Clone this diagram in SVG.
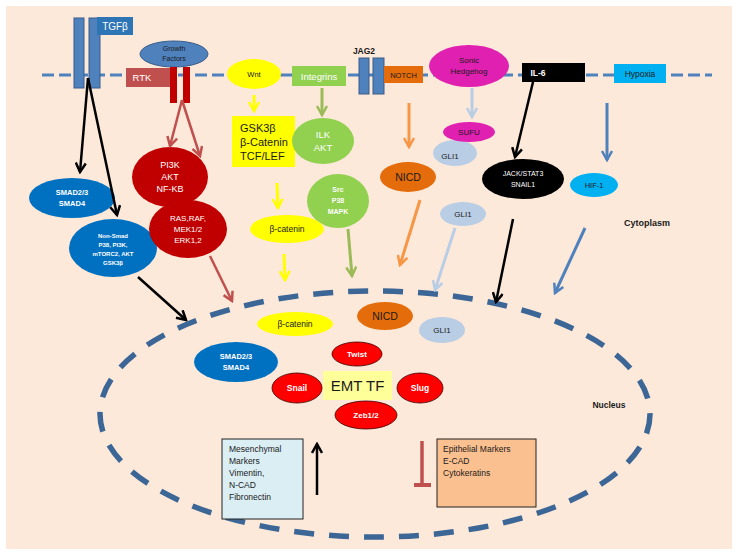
<svg xmlns="http://www.w3.org/2000/svg" width="738" height="556" viewBox="0 0 738 556">
<defs>
<style>
text{font-family:"Liberation Sans","DejaVu Sans",sans-serif;text-anchor:middle;}
.w{fill:#fff;font-weight:bold;}
.d{fill:#1a1a1a;}
.ln{fill:none;stroke-width:2.5;}
.k{stroke:#000;}
.r{stroke:#C0504D;}
.y{stroke:#FFFF00;stroke-width:3;}
.g{stroke:#9BBB59;stroke-width:3;}
.o{stroke:#F79646;stroke-width:3;}
.lb{stroke:#B9CDE5;stroke-width:3;}
.sb{stroke:#4F81BD;stroke-width:3;}
</style>
<marker id="mk" viewBox="0 0 12 12" refX="10" refY="6" markerWidth="12" markerHeight="12" markerUnits="userSpaceOnUse" orient="auto"><path d="M1,1 L10,6 L1,11" fill="none" stroke="#000" stroke-width="2.5"/></marker>
<marker id="mr" viewBox="0 0 12 12" refX="10" refY="6" markerWidth="12" markerHeight="12" markerUnits="userSpaceOnUse" orient="auto"><path d="M1,1 L10,6 L1,11" fill="none" stroke="#C0504D" stroke-width="2.5"/></marker>
<marker id="my" viewBox="0 0 12 12" refX="10" refY="6" markerWidth="12" markerHeight="12" markerUnits="userSpaceOnUse" orient="auto"><path d="M1,1 L10,6 L1,11" fill="none" stroke="#FFFF00" stroke-width="2.5"/></marker>
<marker id="mg" viewBox="0 0 12 12" refX="10" refY="6" markerWidth="12" markerHeight="12" markerUnits="userSpaceOnUse" orient="auto"><path d="M1,1 L10,6 L1,11" fill="none" stroke="#9BBB59" stroke-width="2.5"/></marker>
<marker id="mo" viewBox="0 0 12 12" refX="10" refY="6" markerWidth="12" markerHeight="12" markerUnits="userSpaceOnUse" orient="auto"><path d="M1,1 L10,6 L1,11" fill="none" stroke="#F79646" stroke-width="2.5"/></marker>
<marker id="ml" viewBox="0 0 12 12" refX="10" refY="6" markerWidth="12" markerHeight="12" markerUnits="userSpaceOnUse" orient="auto"><path d="M1,1 L10,6 L1,11" fill="none" stroke="#B9CDE5" stroke-width="2.5"/></marker>
<marker id="ms" viewBox="0 0 12 12" refX="10" refY="6" markerWidth="12" markerHeight="12" markerUnits="userSpaceOnUse" orient="auto"><path d="M1,1 L10,6 L1,11" fill="none" stroke="#4F81BD" stroke-width="2.5"/></marker>
</defs>

<rect x="0" y="0" width="738" height="556" fill="#fff"/>
<rect x="6" y="6" width="726" height="543" fill="#FDE9DA"/>

<!-- membrane -->
<line x1="42" y1="75" x2="712" y2="75" stroke="#4F81BD" stroke-width="3" stroke-dasharray="12,5"/>
<!-- nucleus envelope -->
<ellipse cx="375" cy="414" rx="275" ry="123" fill="none" stroke="#3B6696" stroke-width="5.5" stroke-dasharray="20,15"/>

<text x="647" y="226" class="d" style="font-size:9px;font-weight:bold">Cytoplasm</text>
<text x="609" y="408" class="d" style="font-size:8.5px;font-weight:bold">Nucleus</text>

<!-- TGFβ receptor -->
<g id="tgfb">
<rect x="74" y="18" width="10" height="70" fill="#4F81BD" stroke="#385D8A" stroke-width="1"/>
<rect x="89" y="18" width="11" height="70" fill="#4F81BD" stroke="#385D8A" stroke-width="1"/>
<rect x="97" y="17" width="36" height="18" fill="#2E75B6"/>
<text x="115" y="30" class="w" style="font-size:10px;font-weight:normal">TGFβ</text>
</g>

<g id="growth-factors">
<ellipse cx="174" cy="54" rx="34" ry="13" fill="#4F81BD" stroke="#385D8A" stroke-width="1"/>
<text x="174" y="51" class="d" style="font-size:7px">Growth</text>
<text x="174" y="61" class="d" style="font-size:7px">Factors</text>
</g>

<g id="rtk">
<rect x="126" y="68" width="44" height="19" fill="#C0504D"/>
<text x="142" y="81" style="font-size:9.5px;fill:#fff">RTK</text>
<rect x="170" y="67" width="7" height="36" fill="#C00000"/>
<rect x="183" y="67" width="7" height="36" fill="#C00000"/>
</g>

<g id="wnt">
<ellipse cx="254" cy="74" rx="27" ry="15" fill="#FFFF00"/>
<text x="254" y="77" class="d" style="font-size:7.5px">Wnt</text>
</g>

<g id="integrins">
<rect x="292" y="66" width="54" height="20" fill="#92D050"/>
<text x="319" y="80" style="font-size:9.5px;fill:#fff">Integrins</text>
</g>

<g id="jag2">
<text x="364" y="54" class="d" style="font-size:8.5px;font-weight:bold">JAG2</text>
<rect x="359" y="58" width="10" height="36" fill="#4F81BD" stroke="#385D8A" stroke-width="1"/>
<rect x="373" y="58" width="11" height="36" fill="#4F81BD" stroke="#385D8A" stroke-width="1"/>
</g>

<g id="notch">
<rect x="384" y="66" width="39" height="17" fill="#E46C0A"/>
<text x="403.5" y="78" class="d" style="font-size:7.5px">NOTCH</text>
</g>

<g id="sonic-hedgehog">
<ellipse cx="469" cy="66" rx="40" ry="21" fill="#E020B0"/>
<text x="469" y="63" class="d" style="font-size:8px">Sonic</text>
<text x="469" y="74" class="d" style="font-size:8px">Hedgehog</text>
</g>

<g id="il6">
<rect x="522" y="63" width="63" height="19" fill="#000"/>
<text x="538" y="76" class="w" style="font-size:8.5px">IL-6</text>
</g>

<g id="hypoxia">
<rect x="614" y="64" width="52" height="19" fill="#00B0F0"/>
<text x="640" y="77" class="d" style="font-size:8.5px">Hypoxia</text>
</g>

<g id="smad-cyto">
<ellipse cx="72" cy="198" rx="43" ry="20" fill="#0070C0"/>
<text x="72" y="195" class="w" style="font-size:7.5px">SMAD2/3</text>
<text x="72" y="206" class="w" style="font-size:7.5px">SMAD4</text>
</g>

<g id="non-smad">
<ellipse cx="113" cy="248" rx="44" ry="29" fill="#0070C0"/>
<text x="113" y="238" class="w" style="font-size:6px">Non-Smad</text>
<text x="113" y="247" class="w" style="font-size:6px">P38, PI3K,</text>
<text x="113" y="256" class="w" style="font-size:6px">mTORC2, AKT</text>
<text x="113" y="265" class="w" style="font-size:6px">GSK3β</text>
</g>

<g id="pi3k">
<ellipse cx="170" cy="177" rx="38" ry="30" fill="#C00000"/>
<text x="170" y="168" style="font-size:9px;fill:#fff">PI3K</text>
<text x="170" y="180" style="font-size:9px;fill:#fff">AKT</text>
<text x="170" y="192" style="font-size:9px;fill:#fff">NF-KB</text>
</g>

<g id="ras">
<ellipse cx="188" cy="229" rx="39" ry="29" fill="#C00000"/>
<text x="188" y="221" style="font-size:8px;fill:#fff">RAS,RAF,</text>
<text x="188" y="232" style="font-size:8px;fill:#fff">MEK1/2</text>
<text x="188" y="243" style="font-size:8px;fill:#fff">ERK1,2</text>
</g>

<g id="gsk3b">
<rect x="232" y="116" width="63" height="51" fill="#FFFF00"/>
<text x="240" y="132" class="d" style="font-size:11px;text-anchor:start">GSK3β</text>
<text x="240" y="146" class="d" style="font-size:11px;text-anchor:start">β-Catenin</text>
<text x="240" y="160" class="d" style="font-size:11px;text-anchor:start">TCF/LEF</text>
</g>

<g id="ilk-akt">
<ellipse cx="323" cy="141" rx="31" ry="23" fill="#92D050"/>
<text x="323" y="138" style="font-size:9.5px;fill:#fff">ILK</text>
<text x="323" y="151" style="font-size:9.5px;fill:#fff">AKT</text>
</g>

<g id="src">
<ellipse cx="338" cy="201" rx="31" ry="27" fill="#92D050"/>
<text x="338" y="192" class="w" style="font-size:7px">Src</text>
<text x="338" y="203" class="w" style="font-size:7px">P38</text>
<text x="338" y="214" class="w" style="font-size:7px">MAPK</text>
</g>

<g id="beta-catenin-cyto">
<ellipse cx="287" cy="229" rx="37" ry="14" fill="#FFFF00"/>
<text x="287" y="232" class="d" style="font-size:8.5px">β-catenin</text>
</g>

<g id="nicd-cyto">
<ellipse cx="408" cy="177" rx="28" ry="15" fill="#E46C0A"/>
<text x="408" y="181" class="d" style="font-size:10.5px">NICD</text>
</g>

<g id="gli1-sufu">
<ellipse cx="455" cy="153" rx="22" ry="13" fill="#B9CDE5"/>
<text x="450" y="159" class="d" style="font-size:8px">GLI1</text>
</g>

<g id="sufu">
<ellipse cx="469" cy="132" rx="26" ry="10" fill="#E020B0"/>
<text x="469" y="135" class="d" style="font-size:8px">SUFU</text>
</g>

<g id="gli1-cyto">
<ellipse cx="463" cy="214" rx="23" ry="12" fill="#B9CDE5"/>
<text x="463" y="217" class="d" style="font-size:8px">GLI1</text>
</g>

<g id="jack-stat3">
<ellipse cx="523" cy="179" rx="41" ry="20" fill="#000"/>
<text x="523" y="176" style="font-size:7px;fill:#fff">JACK/STAT3</text>
<text x="523" y="187" style="font-size:7px;fill:#fff">SNAIL1</text>
</g>

<g id="hif1">
<ellipse cx="594" cy="185" rx="24" ry="12" fill="#00B0F0"/>
<text x="594" y="188" class="d" style="font-size:7.5px">HIF-1</text>
</g>

<!-- nucleus contents -->
<g id="beta-catenin-nuc">
<ellipse cx="295" cy="324" rx="38" ry="12" fill="#FFFF00"/>
<text x="295" y="327" class="d" style="font-size:8.5px">β-catenin</text>
</g>

<g id="nicd-nuc">
<ellipse cx="385" cy="316" rx="28" ry="14" fill="#E46C0A"/>
<text x="385" y="320" class="d" style="font-size:10.5px">NICD</text>
</g>

<g id="gli1-nuc">
<ellipse cx="442" cy="330" rx="23" ry="13" fill="#B9CDE5"/>
<text x="442" y="333" class="d" style="font-size:8px">GLI1</text>
</g>

<g id="smad-nuc">
<ellipse cx="236" cy="362" rx="42" ry="20" fill="#0070C0"/>
<text x="236" y="359" class="w" style="font-size:7.5px">SMAD2/3</text>
<text x="236" y="370" class="w" style="font-size:7.5px">SMAD4</text>
</g>

<g id="twist">
<ellipse cx="357" cy="354" rx="25" ry="12" fill="#FF0000" stroke="#3a0000" stroke-width="0.8"/>
<text x="357" y="357" class="w" style="font-size:8px">Twist</text>
</g>

<g id="snail">
<ellipse cx="297" cy="388" rx="25" ry="15" fill="#FF0000" stroke="#3a0000" stroke-width="0.8"/>
<text x="297" y="391" class="w" style="font-size:8.5px">Snail</text>
</g>

<g id="emt-tf">
<rect x="323" y="371" width="69" height="29" fill="#FFFF99"/>
<text x="357.5" y="391" class="d" style="font-size:15px">EMT TF</text>
</g>

<g id="slug">
<ellipse cx="420" cy="388" rx="23" ry="15" fill="#FF0000" stroke="#3a0000" stroke-width="0.8"/>
<text x="420" y="391" class="w" style="font-size:8.5px">Slug</text>
</g>

<g id="zeb">
<ellipse cx="366" cy="415" rx="31" ry="14" fill="#FF0000" stroke="#3a0000" stroke-width="0.8"/>
<text x="366" y="418" class="w" style="font-size:8px">Zeb1/2</text>
</g>

<g id="mesenchymal">
<rect x="222" y="439" width="81" height="80" fill="#DBEEF4" stroke="#222" stroke-width="1"/>
<text x="229" y="452" class="d" style="font-size:8.5px;text-anchor:start">Mesenchymal</text>
<text x="229" y="464" class="d" style="font-size:8.5px;text-anchor:start">Markers</text>
<text x="229" y="476" class="d" style="font-size:8.5px;text-anchor:start">Vimentin,</text>
<text x="229" y="488" class="d" style="font-size:8.5px;text-anchor:start">N-CAD</text>
<text x="229" y="500" class="d" style="font-size:8.5px;text-anchor:start">Fibronectin</text>
</g>

<g id="epithelial">
<rect x="437" y="439" width="99" height="68" fill="#FAC090" stroke="#222" stroke-width="1"/>
<text x="443" y="452" class="d" style="font-size:8.5px;text-anchor:start">Epithelial Markers</text>
<text x="443" y="464" class="d" style="font-size:8.5px;text-anchor:start">E-CAD</text>
<text x="443" y="476" class="d" style="font-size:8.5px;text-anchor:start">Cytokeratins</text>
</g>

<!-- connectors -->
<g id="connectors">
<line class="ln k" x1="88" y1="78" x2="80" y2="172" marker-end="url(#mk)"/>
<line class="ln k" x1="88" y1="78" x2="117" y2="215" marker-end="url(#mk)"/>
<line class="ln k" x1="138" y1="277" x2="186" y2="320" marker-end="url(#mk)"/>
<line class="ln r" x1="182" y1="100" x2="170" y2="146" marker-end="url(#mr)"/>
<line class="ln r" x1="182" y1="100" x2="200" y2="156" marker-end="url(#mr)"/>
<line class="ln r" x1="210" y1="256" x2="232" y2="301" marker-end="url(#mr)"/>
<line class="ln y" x1="254" y1="95" x2="254" y2="111" marker-end="url(#my)"/>
<line class="ln y" x1="277" y1="183" x2="278" y2="208" marker-end="url(#my)"/>
<line class="ln y" x1="284" y1="254" x2="285" y2="280" marker-end="url(#my)"/>
<line class="ln g" x1="322" y1="88" x2="322" y2="115" marker-end="url(#mg)"/>
<line class="ln g" x1="348" y1="229" x2="352" y2="276" marker-end="url(#mg)"/>
<line class="ln o" x1="409" y1="103" x2="409" y2="147" marker-end="url(#mo)"/>
<line class="ln o" x1="420" y1="200" x2="400" y2="265" marker-end="url(#mo)"/>
<line class="ln lb" x1="472" y1="88" x2="472" y2="117" marker-end="url(#ml)"/>
<line class="ln lb" x1="455" y1="228" x2="435" y2="290" marker-end="url(#ml)"/>
<line class="ln k" x1="533" y1="82" x2="515" y2="157" marker-end="url(#mk)"/>
<line class="ln k" x1="513" y1="219" x2="496" y2="302" marker-end="url(#mk)"/>
<line class="ln sb" x1="607" y1="103" x2="607" y2="160" marker-end="url(#ms)"/>
<line class="ln sb" x1="585" y1="228" x2="555" y2="293" marker-end="url(#ms)"/>
<line class="ln k" x1="317" y1="495" x2="317" y2="444" marker-end="url(#mk)"/>
<line x1="422" y1="441" x2="422" y2="485" stroke="#C0504D" stroke-width="3.5"/>
<line x1="414" y1="485" x2="431" y2="485" stroke="#C0504D" stroke-width="4"/>
</g>
</svg>
